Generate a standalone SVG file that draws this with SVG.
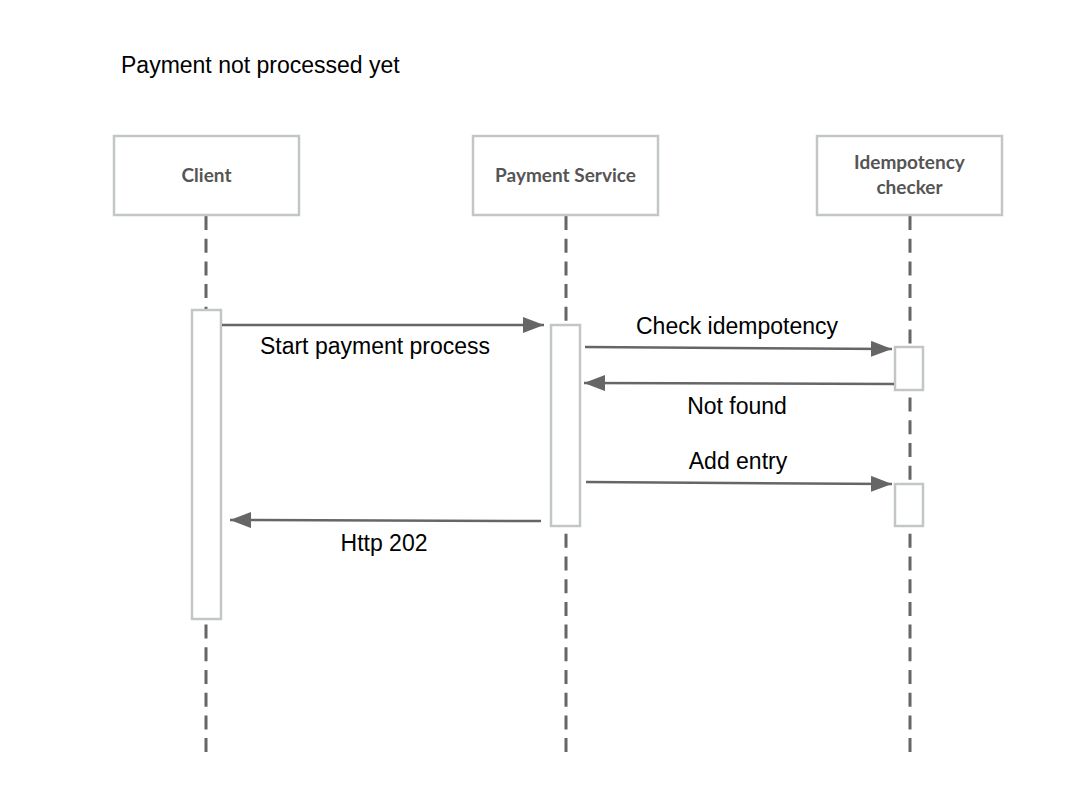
<svg xmlns="http://www.w3.org/2000/svg" width="1082" height="790" viewBox="0 0 1082 790">
<style>
.box{fill:#fff;stroke:#c3c6c6;stroke-width:2.5}
.act{fill:#fff;stroke:#c3c6c6;stroke-width:2.5}
.life{stroke:#666;stroke-width:3;stroke-dasharray:14 8.7;fill:none}
.nt{font-family:Lato,"Open Sans",sans-serif;font-weight:bold;font-size:19px;fill:#555;text-anchor:middle}
.msg{stroke:#666;stroke-width:2.5;fill:none}
.lbl{font-family:"Liberation Sans",Arial,sans-serif;font-size:23px;fill:#000;text-anchor:middle}
.title{font-family:"Liberation Sans",Arial,sans-serif;font-size:23px;fill:#000}
</style>
<defs>
<marker id="ah" viewBox="0 0 10 10" refX="10" refY="5" markerWidth="8.4" markerHeight="6.4" markerUnits="strokeWidth" orient="auto" preserveAspectRatio="none"><path d="M0,0 L10,5 L0,10 z" fill="#666"/></marker>
</defs>
<rect width="1082" height="790" fill="#fff"/>
<text class="title" x="121" y="73">Payment not processed yet</text>
<g id="lifelines">
<line class="life" x1="206" y1="216" x2="206" y2="752"/>
<line class="life" x1="566" y1="216" x2="566" y2="752"/>
<line class="life" x1="910" y1="216" x2="910" y2="752"/>
</g>
<g id="client">
<rect class="box" x="114" y="136" width="185" height="79"/>
<text class="nt" x="206.5" y="182">Client</text>
<rect class="act" x="192" y="310" width="29" height="309"/>
</g>
<g id="payment-service">
<rect class="box" x="473" y="136" width="185" height="79"/>
<text class="nt" x="565.5" y="182">Payment Service</text>
<rect class="act" x="551" y="325" width="29" height="201"/>
</g>
<g id="idempotency-checker">
<rect class="box" x="817" y="136" width="185" height="79"/>
<text class="nt" x="909.5" y="169">Idempotency</text>
<text class="nt" x="909.5" y="194">checker</text>
<rect class="act" x="895" y="347" width="28" height="43"/>
<rect class="act" x="895" y="484" width="28" height="42"/>
</g>
<g id="connectors">
<line class="msg" x1="222" y1="325" x2="544" y2="325" marker-end="url(#ah)"/>
<text class="lbl" x="375" y="354">Start payment process</text>
<line class="msg" x1="585" y1="347" x2="892" y2="349" marker-end="url(#ah)"/>
<text class="lbl" x="737" y="334">Check idempotency</text>
<line class="msg" x1="894" y1="384" x2="584" y2="383" marker-end="url(#ah)"/>
<text class="lbl" x="737" y="414">Not found</text>
<line class="msg" x1="586" y1="482" x2="892" y2="484" marker-end="url(#ah)"/>
<text class="lbl" x="738" y="469">Add entry</text>
<line class="msg" x1="541" y1="521" x2="230" y2="520" marker-end="url(#ah)"/>
<text class="lbl" x="384" y="551">Http 202</text>
</g>
</svg>
